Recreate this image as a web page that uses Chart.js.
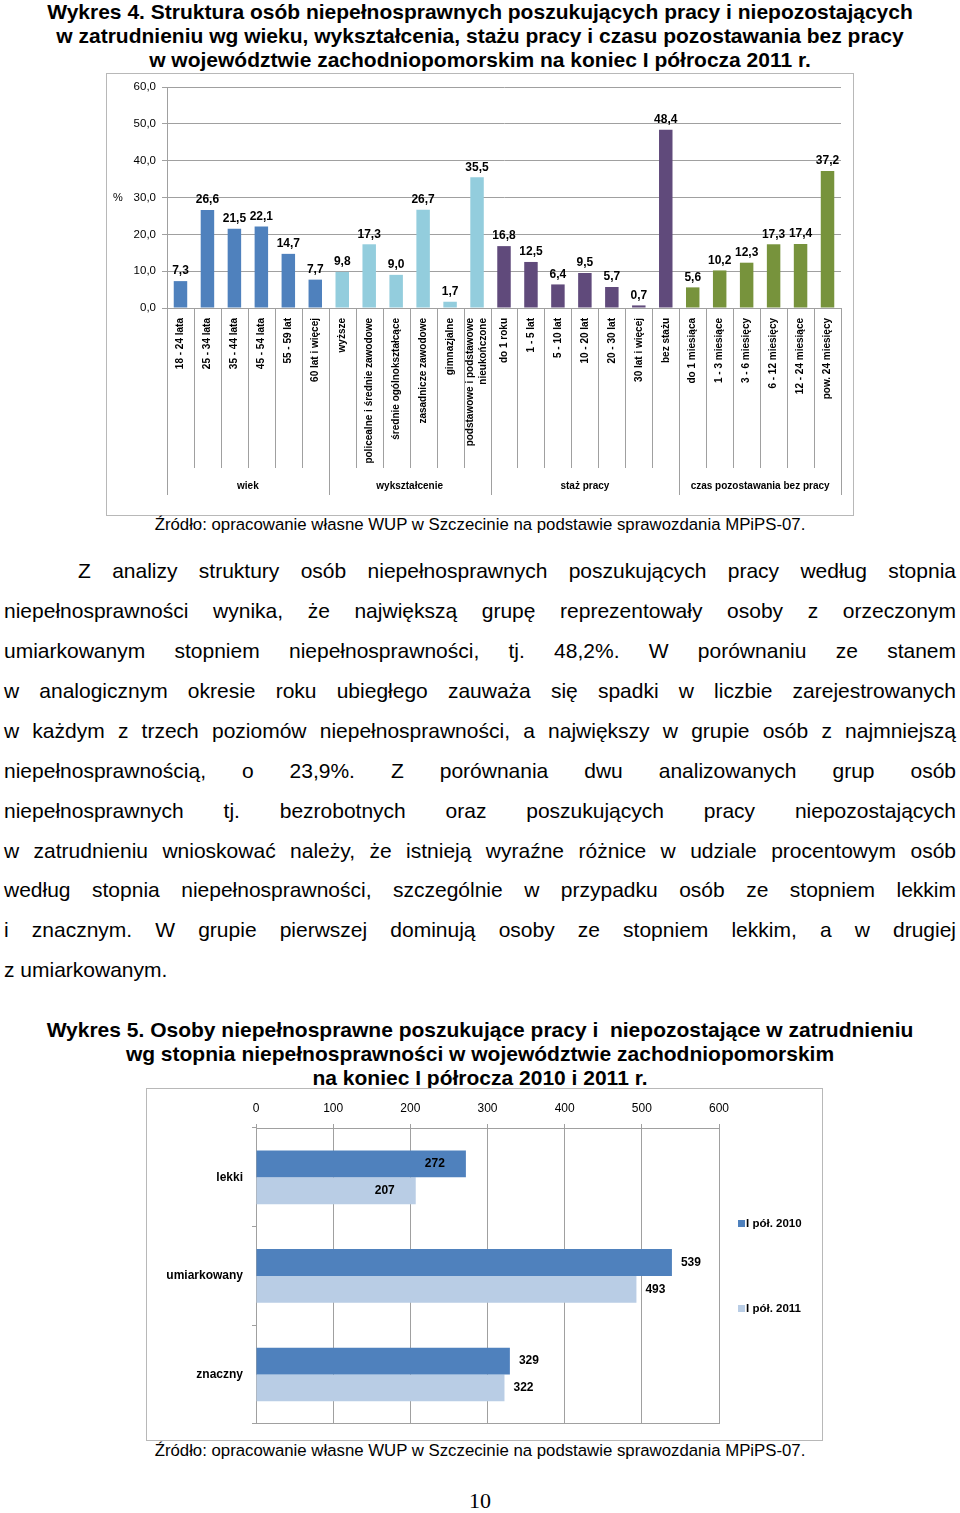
<!DOCTYPE html>
<html lang="pl">
<head>
<meta charset="utf-8">
<script src="https://cdn.jsdelivr.net/npm/chart.js@4.4.1/dist/chart.umd.min.js"></script>
<style>
  html, body { margin: 0; padding: 0; background: #fff; }
  body { position: relative; width: 960px; height: 1513px; overflow: hidden; font-family: "Liberation Sans", Arial, sans-serif; color: #000; }
  .abs { position: absolute; white-space: nowrap; }
  .title { left: 0; width: 960px; text-align: center; font-weight: bold; font-size: 21px; line-height: 24px; }
  .src { left: 0; width: 960px; text-align: center; font-size: 16.8px; line-height: 20px; }
  .frame { position: absolute; border: 1px solid #b8b8b8; }
  .frame canvas { display: block; }
  .para { position: absolute; font-size: 21px; line-height: 26px; text-align: justify; text-align-last: justify; }
  .page { left: 0; width: 960px; text-align: center; font-family: "Liberation Serif", "Times New Roman", serif; font-size: 22px; }
</style>
</head>
<body>

<div class="abs title" style="top:0px">Wykres 4. Struktura osób niepełnosprawnych poszukujących pracy i niepozostających</div>
<div class="abs title" style="top:24px">w zatrudnieniu wg wieku, wykształcenia, stażu pracy i czasu pozostawania bez pracy</div>
<div class="abs title" style="top:48px">w województwie zachodniopomorskim na koniec I półrocza 2011 r.</div>

<div class="frame" style="left:106px; top:73px; width:746px; height:441px;">
  <canvas id="chartStruktura" width="746" height="441"></canvas>
</div>

<div class="abs src" style="top:515px">Źródło: opracowanie własne WUP w Szczecinie na podstawie sprawozdania MPiPS-07.</div>

<div class="para" style="left:78px; width:878px; top:558px">Z analizy struktury osób niepełnosprawnych poszukujących pracy według stopnia</div>
<div class="para" style="left:4px; width:952px; top:598px">niepełnosprawności wynika, że największą grupę reprezentowały osoby z orzeczonym</div>
<div class="para" style="left:4px; width:952px; top:638px">umiarkowanym stopniem niepełnosprawności, tj. 48,2%. W porównaniu ze stanem</div>
<div class="para" style="left:4px; width:952px; top:678px">w analogicznym okresie roku ubiegłego zauważa się spadki w liczbie zarejestrowanych</div>
<div class="para" style="left:4px; width:952px; top:718px">w każdym z trzech poziomów niepełnosprawności, a największy w grupie osób z najmniejszą</div>
<div class="para" style="left:4px; width:952px; top:758px">niepełnosprawnością, o 23,9%. Z porównania dwu analizowanych grup osób</div>
<div class="para" style="left:4px; width:952px; top:798px">niepełnosprawnych tj. bezrobotnych oraz poszukujących pracy niepozostających</div>
<div class="para" style="left:4px; width:952px; top:838px">w zatrudnieniu wnioskować należy, że istnieją wyraźne różnice w udziale procentowym osób</div>
<div class="para" style="left:4px; width:952px; top:877px">według stopnia niepełnosprawności, szczególnie w przypadku osób ze stopniem lekkim</div>
<div class="para" style="left:4px; width:952px; top:917px">i znacznym. W grupie pierwszej dominują osoby ze stopniem lekkim, a w drugiej</div>
<div class="para" style="left:4px; top:957px; text-align:left; text-align-last:left">z umiarkowanym.</div>

<div class="abs title" style="top:1018px">Wykres 5. Osoby niepełnosprawne poszukujące pracy i&nbsp; niepozostające w zatrudnieniu</div>
<div class="abs title" style="top:1042px">wg stopnia niepełnosprawności w województwie zachodniopomorskim</div>
<div class="abs title" style="top:1066px">na koniec I półrocza 2010 i 2011 r.</div>

<div class="frame" style="left:146px; top:1088px; width:675px; height:351px;">
  <canvas id="chartStopien" width="675" height="351"></canvas>
</div>

<div class="abs src" style="top:1441px">Źródło: opracowanie własne WUP w Szczecinie na podstawie sprawozdania MPiPS-07.</div>

<div class="abs page" style="top:1488px">10</div>

<script>
// --- Wykres 4: dane ---
const kategorieWiek = ['18 - 24 lata', '25 - 34 lata', '35 - 44 lata', '45 - 54 lata', '55 - 59 lat', '60 lat i więcej'];
const kategorieWyksztalcenie = ['wyższe', 'policealne i średnie zawodowe', 'średnie ogólnokształcące', 'zasadnicze zawodowe', 'gimnazjalne', ['podstawowe i podstawowe', 'nieukończone']];
const kategorieStaz = ['do 1 roku', '1 - 5 lat', '5 - 10 lat', '10 - 20 lat', '20 - 30 lat', '30 lat i więcej', 'bez stażu'];
const kategorieCzas = ['do 1 miesiąca', '1 - 3 miesiące', '3 - 6 miesięcy', '6 - 12 miesięcy', '12 - 24 miesiące', 'pow. 24 miesięcy'];

const wartosciWiek = [7.3, 26.6, 21.5, 22.1, 14.7, 7.7];
const wartosciWyksztalcenie = [9.8, 17.3, 9.0, 26.7, 1.7, 35.5];
const wartosciStaz = [16.8, 12.5, 6.4, 9.5, 5.7, 0.7, 48.4];
const wartosciCzas = [5.6, 10.2, 12.3, 17.3, 17.4, 37.2];

const grupy = ['wiek', 'wykształcenie', 'staż pracy', 'czas pozostawania bez pracy'];
const osY4Ticks = [0, 10, 20, 30, 40, 50, 60];

// --- Wykres 5: dane ---
const stopnie = ['lekki', 'umiarkowany', 'znaczny'];
const pol2010 = [272, 539, 329];
const pol2011 = [207, 493, 322];
const osX5Ticks = [0, 100, 200, 300, 400, 500, 600];

const KOLORY_GRUP = ['#4F81BD', '#93CDDD', '#604A7B', '#77933C'];
const SZARY = '#a0a0a0';

Chart.defaults.font.family = '"Liberation Sans", Arial, sans-serif';
Chart.defaults.color = '#000';

const fmt = v => v.toFixed(1).replace('.', ',');

// build the flat lists for chart 4
const grupyKat = [kategorieWiek, kategorieWyksztalcenie, kategorieStaz, kategorieCzas];
const grupyVal = [wartosciWiek, wartosciWyksztalcenie, wartosciStaz, wartosciCzas];
const labels4 = [].concat(...grupyKat);
const values4 = [].concat(...grupyVal);
const colors4 = [];
grupyVal.forEach((g, i) => g.forEach(() => colors4.push(KOLORY_GRUP[i])));

// value labels above bars
const etykietyPlugin = {
    id: 'etykiety4',
    afterDatasetsDraw(chart) {
        const ctx = chart.ctx;
        const meta = chart.getDatasetMeta(0);
        ctx.save();
        ctx.font = 'bold 12px "Liberation Sans", Arial, sans-serif';
        ctx.fillStyle = '#000';
        ctx.textAlign = 'center';
        ctx.textBaseline = 'bottom';
        meta.data.forEach((bar, i) => {
            ctx.fillText(fmt(values4[i]), bar.x, bar.y - 4);
        });
        ctx.restore();
    }
};

// rotated category labels, separators under the axis + group names
const grupyPlugin = {
    id: 'grupy4',
    afterDraw(chart) {
        const ctx = chart.ctx;
        const x = chart.scales.x;
        const y = chart.scales.y;
        const bottom = chart.chartArea.bottom;
        const n = labels4.length;
        const granice = [];
        for (let i = 0; i <= n; i++) {
            if (i === 0) granice.push(x.left);
            else if (i === n) granice.push(x.right);
            else granice.push((x.getPixelForValue(i - 1) + x.getPixelForValue(i)) / 2);
        }
        const dlugie = [0];
        let acc = 0;
        grupyVal.forEach(g => { acc += g.length; dlugie.push(acc); });

        ctx.save();
        ctx.strokeStyle = SZARY;
        ctx.lineWidth = 1;
        granice.forEach((gx, i) => {
            const xx = Math.round(gx) + 0.5;
            ctx.beginPath();
            ctx.moveTo(xx, bottom);
            ctx.lineTo(xx, bottom + (dlugie.includes(i) ? 187 : 160));
            ctx.stroke();
        });

        // category labels, reading upwards, lines centred on the tick
        ctx.font = 'bold 10px "Liberation Sans", Arial, sans-serif';
        ctx.fillStyle = '#000';
        labels4.forEach((lab, i) => {
            const lines = Array.isArray(lab) ? lab : [lab];
            const px = x.getPixelForValue(i);
            ctx.save();
            ctx.translate(px, bottom + 10);
            ctx.rotate(-Math.PI / 2);
            ctx.textAlign = 'right';
            ctx.textBaseline = 'middle';
            lines.forEach((ln, k) => {
                ctx.fillText(ln, 0, (k - (lines.length - 1) / 2) * 13);
            });
            ctx.restore();
        });

        ctx.textAlign = 'center';
        ctx.textBaseline = 'middle';
        grupy.forEach((nazwa, g) => {
            const cx = (granice[dlugie[g]] + granice[dlugie[g + 1]]) / 2;
            ctx.fillText(nazwa, cx, bottom + 178);
        });

        ctx.font = '11px "Liberation Sans", Arial, sans-serif';
        ctx.fillText('%', y.left + 11, y.getPixelForValue(30));
        ctx.restore();
    }
};

new Chart(document.getElementById('chartStruktura'), {
    type: 'bar',
    data: {
        labels: labels4,
        datasets: [{
            data: values4,
            backgroundColor: colors4,
            barPercentage: 0.5,
            categoryPercentage: 1.0
        }]
    },
    options: {
        responsive: false,
        animation: false,
        layout: { padding: { top: 13, right: 12, left: 0, bottom: 0 } },
        plugins: { legend: { display: false }, tooltip: { enabled: false } },
        scales: {
            x: {
                grid: { display: false },
                border: { color: SZARY },
                ticks: { display: false },
                afterFit(scale) { scale.height = 207; }
            },
            y: {
                min: 0,
                max: 60,
                afterBuildTicks(scale) { scale.ticks = osY4Ticks.map(v => ({ value: v })); },
                grid: { color: SZARY, tickLength: 5 },
                border: { color: SZARY },
                ticks: {
                    padding: 6,
                    font: { size: 11.5 },
                    callback: v => fmt(v)
                },
                afterFit(scale) { scale.width = 60; }
            }
        }
    },
    plugins: [etykietyPlugin, grupyPlugin]
});

// --- Wykres 5 ---
const etykiety5Plugin = {
    id: 'etykiety5',
    afterDatasetsDraw(chart) {
        const ctx = chart.ctx;
        ctx.save();
        ctx.font = 'bold 12px "Liberation Sans", Arial, sans-serif';
        ctx.fillStyle = '#000';
        ctx.textBaseline = 'middle';
        chart.data.datasets.forEach((ds, d) => {
            chart.getDatasetMeta(d).data.forEach((bar, i) => {
                const txt = String(ds.data[i]);
                if (i === 0) {
                    ctx.textAlign = 'right';
                    ctx.fillText(txt, bar.x - 21, bar.y);
                } else {
                    ctx.textAlign = 'left';
                    ctx.fillText(txt, bar.x + 9, bar.y);
                }
            });
        });
        ctx.restore();
    }
};

const legenda5Plugin = {
    id: 'legenda5',
    afterDraw(chart) {
        const ctx = chart.ctx;
        const area = chart.chartArea;
        ctx.save();
        ctx.font = 'bold 11.5px "Liberation Sans", Arial, sans-serif';
        ctx.textBaseline = 'middle';
        ctx.textAlign = 'left';
        const ys = [area.top + 96, area.top + 181];
        chart.data.datasets.forEach((ds, d) => {
            const lx = area.right + 19;
            ctx.fillStyle = ds.backgroundColor;
            ctx.fillRect(lx, ys[d] - 4, 7, 7);
            ctx.fillStyle = '#000';
            ctx.fillText(ds.label, lx + 8, ys[d]);
        });
        ctx.restore();
    }
};

new Chart(document.getElementById('chartStopien'), {
    type: 'bar',
    data: {
        labels: stopnie,
        datasets: [
            { label: 'I pół. 2010', data: pol2010, backgroundColor: '#4F81BD', barPercentage: 1.0, categoryPercentage: 0.545 },
            { label: 'I pół. 2011', data: pol2011, backgroundColor: '#B9CDE5', barPercentage: 1.0, categoryPercentage: 0.545 }
        ]
    },
    options: {
        indexAxis: 'y',
        responsive: false,
        animation: false,
        layout: { padding: { top: 0, right: 103, left: 0, bottom: 0 } },
        plugins: { legend: { display: false }, tooltip: { enabled: false } },
        scales: {
            x: {
                position: 'top',
                min: 0,
                max: 600,
                afterBuildTicks(scale) { scale.ticks = osX5Ticks.map(v => ({ value: v })); },
                grid: { color: SZARY, tickLength: 4 },
                border: { color: SZARY },
                ticks: { padding: 8, font: { size: 12 } },
                afterFit(scale) { scale.height = 39; }
            },
            x2: {
                position: 'bottom',
                axis: 'x',
                min: 0,
                max: 600,
                grid: { display: false },
                border: { color: SZARY },
                ticks: { display: false },
                afterFit(scale) { scale.height = 8; }
            },
            y: {
                grid: { drawOnChartArea: false, color: SZARY, tickLength: 4 },
                border: { color: SZARY },
                ticks: { padding: 9, font: { size: 12, weight: 'bold' } },
                afterFit(scale) { scale.width = 109; }
            }
        }
    },
    plugins: [etykiety5Plugin, legenda5Plugin]
});
</script>
</body>
</html>
